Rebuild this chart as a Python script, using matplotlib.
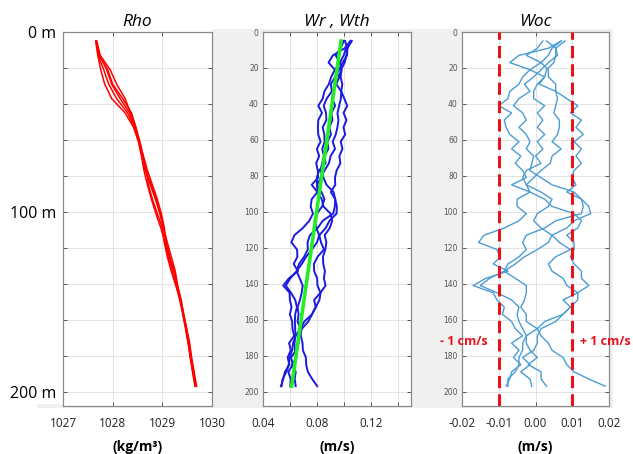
import matplotlib
matplotlib.use("Agg")
import matplotlib.pyplot as plt
from matplotlib.patches import Rectangle
import numpy as np

# ---------------- data ----------------
rho_depth = [5, 13, 21, 29, 37, 45, 53, 61, 69, 77, 85, 93, 101, 109, 117, 125,
             133, 141, 149, 157, 165, 173, 181, 189, 197]
rho_1 = [1027.66, 1027.70, 1027.76, 1027.84, 1027.98, 1028.25, 1028.42, 1028.52, 1028.58,
         1028.63, 1028.70, 1028.78, 1028.87, 1028.97, 1029.05, 1029.12, 1029.20, 1029.28,
         1029.35, 1029.41, 1029.47, 1029.52, 1029.56, 1029.61, 1029.66]
rho_2 = [1027.67, 1027.73, 1027.90, 1028.00, 1028.20, 1028.38, 1028.47, 1028.54, 1028.62,
         1028.70, 1028.80, 1028.90, 1028.98, 1029.04, 1029.08, 1029.15, 1029.24, 1029.30,
         1029.37, 1029.43, 1029.49, 1029.54, 1029.58, 1029.63, 1029.68]
rho_3 = [1027.68, 1027.75, 1027.95, 1028.08, 1028.25, 1028.36, 1028.46, 1028.55, 1028.61,
         1028.67, 1028.76, 1028.86, 1028.95, 1029.02, 1029.10, 1029.18, 1029.26, 1029.31,
         1029.37, 1029.42, 1029.48, 1029.53, 1029.57, 1029.62, 1029.67]
rho_4 = [1027.66, 1027.71, 1027.82, 1027.92, 1028.08, 1028.30, 1028.44, 1028.52, 1028.60,
         1028.68, 1028.72, 1028.80, 1028.90, 1029.00, 1029.04, 1029.10, 1029.18, 1029.27,
         1029.36, 1029.42, 1029.47, 1029.52, 1029.57, 1029.61, 1029.66]
rho_5 = [1027.67, 1027.74, 1027.88, 1027.98, 1028.15, 1028.34, 1028.45, 1028.53, 1028.59,
         1028.65, 1028.78, 1028.88, 1028.96, 1029.03, 1029.07, 1029.14, 1029.23, 1029.30,
         1029.38, 1029.43, 1029.49, 1029.55, 1029.59, 1029.64, 1029.69]

w_depth = [5, 9, 13, 17, 21, 25, 29, 33, 37, 41, 45, 49, 53, 57, 61, 65, 69, 73, 77, 81,
           85, 89, 93, 97, 101, 105, 109, 113, 117, 121, 125, 129, 133, 137, 141, 145,
           149, 153, 157, 161, 165, 169, 173, 177, 181, 185, 189, 193, 197]
# Woc profiles in cm/s
woc_a = [0.7, 0.35, -0.45, -0.7, -0.15, -0.35, -0.45, -0.7, -0.75, -1.0, -0.65, -0.85,
         -0.8, -0.7, -0.45, -0.65, -0.4, -0.55, -0.35, -0.25, -0.65, -0.15, -0.5, -0.5,
         -0.25, -0.45, -0.85, -1.4, -1.55, -1.05, -0.95, -1.15, -0.75, -1.35, -1.7, -1.15,
         -1.05, -0.85, -0.9, -0.65, -0.55, -0.35, -0.65, -0.45, -0.6, -0.4, -0.65, -0.7, -0.8]
woc_b = [0.8, 0.55, 0.6, 0.35, 0.15, -0.05, -0.3, -0.15, -0.45, -0.6, -0.35, -0.25,
         -0.45, -0.25, -0.15, -0.25, -0.05, -0.1, -0.15, 0.15, 0.45, 1.05, 1.25, 1.45,
         1.5, 1.05, 0.85, 0.45, 0.35, 0.05, -0.3, -0.55, -0.85, -1.25, -1.5, -1.05,
         -0.65, -0.45, -0.5, -0.45, -0.35, -0.25, -0.25, -0.15, 0.05, -0.2, 0.15, 0.15, 0.3]
woc_c = [0.3, 0.55, 0.55, 0.5, 0.3, 0.25, 0.1, 0.55, 0.85, 1.15, 0.95, 1.25, 1.1, 1.3,
         1.05, 1.25, 1.1, 1.25, 1.05, 1.0, 1.1, 0.85, 1.25, 1.3, 1.25, 0.55, 0.25, -0.25,
         -0.35, -0.25, -0.45, -0.75, -0.85, -0.55, -0.25, -0.25, -0.3, -0.4, -0.25, -0.25,
         0.05, 0.15, 0.35, 0.45, 0.75, 0.85, 1.05, 1.45, 1.9]
woc_d = [0.7, 0.45, 0.35, 0.15, 0.35, 0.35, 0.55, 0.55, 0.6, 0.55, 0.5, 0.65, 0.65, 0.6,
         0.45, 0.7, 0.45, 0.4, 0.15, -0.05, -0.25, -0.15, 0.25, 0.45, 1.05, 1.25, 1.15,
         0.85, 1.05, 1.05, 0.95, 1.05, 1.25, 1.25, 1.45, 1.15, 1.15, 0.95, 0.75, 0.25,
         0.05, -0.25, -0.35, -0.35, -0.45, -0.45, -0.55, -0.75, -0.75]
woc_e = [0.2, 0.05, -0.25, 0.15, -0.15, 0.25, 0.05, -0.05, -0.05, 0.25, 0.05, 0.2, 0.05,
         0.25, 0.05, 0.2, 0.0, 0.15, -0.25, -0.35, -0.25, 0.15, 0.45, 0.35, 0.05, -0.05,
         0.15, 0.45, 0.65, 0.95, 0.55, 0.35, 0.45, 0.75, 0.85, 1.15, 0.75, 0.95, 0.75,
         0.55, 0.15, 0.05, 0.05, -0.05, -0.35, -0.15, -0.4, -0.15, -0.1]

# theoretical speed Wth: straight line between its end points
wth_depth = [5, 197]
wth_value = [0.098, 0.0613]

titles = ["Rho", "Wr , Wth", "Woc"]
xlabels = ["(kg/m³)", "(m/s)", "(m/s)"]
rho_xticks = [1027, 1028, 1029, 1030]
wr_xticks = [0.04, 0.06, 0.08, 0.10, 0.12, 0.14]
wr_xticklabels = ["0.04", "", "0.08", "", "0.12", ""]
woc_xticks = [-0.02, -0.01, 0.00, 0.01, 0.02]
woc_xticklabels = ["-0.02", "-0.01", "0.00", "0.01", "0.02"]
depth_ticks = [0, 20, 40, 60, 80, 100, 120, 140, 160, 180, 200]
rho_depth_labels = ["0 m", "", "", "", "", "100 m", "", "", "", "", "200 m"]
limit_lines = [-0.01, 0.01]

# ---------------- figure ----------------
W, H = 633, 454
fig = plt.figure(figsize=(W / 100, H / 100), dpi=100)
fig.patch.set_facecolor("white")

def frac(x0, y0, x1, y1):
    return [x0 / W, 1 - y1 / H, (x1 - x0) / W, (y1 - y0) / H]

# grey MATLAB-like background behind panels (drawn in a background axes)
bg = fig.add_axes([0, 0, 1, 1], zorder=-10)
bg.set_xlim(0, W)
bg.set_ylim(H, 0)
bg.axis("off")
gray = "#f0f0f0"
bg.add_patch(Rectangle((212, 29), 613 - 212, 408 - 29, facecolor=gray, edgecolor="none"))
bg.add_patch(Rectangle((37, 404), 212 - 37, 4, facecolor=gray, edgecolor="none"))

ax1 = fig.add_axes(frac(63, 32, 212, 406))
ax2 = fig.add_axes(frac(263, 32, 411, 406))
ax3 = fig.add_axes(frac(462, 32, 609, 406))

font_main = "Open Sans"
spine_col = "#8a8a8a"

for ax in (ax1, ax2, ax3):
    ax.set_facecolor("white")
    for s in ax.spines.values():
        s.set_color(spine_col)
        s.set_linewidth(0.9)
    ax.set_ylim(208, 0)
    ax.set_yticks(depth_ticks)
    ax.grid(True, color="#dedede", linewidth=0.6)
    ax.set_axisbelow(True)
    ax.tick_params(direction="in", length=3, width=0.6, color="#404040",
                   top=True, right=True)
    ax.tick_params(axis="x", pad=8)

# Rho panel
for r in (rho_1, rho_2, rho_3, rho_4, rho_5):
    ax1.plot(r, rho_depth, color="#ff0000", linewidth=1.1)
ax1.set_xlim(1027, 1030)
ax1.set_xticks(rho_xticks)
ax1.set_xticklabels([str(v) for v in rho_xticks], fontsize=8.5, family=font_main, color="#222222")
ax1.set_yticklabels(rho_depth_labels, fontsize=11.5, family=font_main, color="black")
ax1.tick_params(axis="y", pad=5)

# Wr, Wth panel
wth_interp = np.interp(w_depth, wth_depth, wth_value)
for wc in (woc_a, woc_b, woc_c, woc_d, woc_e):
    wr = wth_interp + np.array(wc) / 100.0
    ax2.plot(wr, w_depth, color="#1a1ae0", linewidth=1.4)
ax2.plot(wth_value, wth_depth, color="#22ee22", linewidth=2.6)
ax2.set_xlim(0.04, 0.15)
ax2.set_xticks(wr_xticks)
ax2.set_xticklabels(wr_xticklabels, fontsize=8.5, family=font_main, color="#222222")

# Woc panel
for wc in (woc_a, woc_b, woc_c, woc_d, woc_e):
    ax3.plot(np.array(wc) / 100.0, w_depth, color="#4b9cd3", linewidth=1.0)
for xv in limit_lines:
    ax3.axvline(xv, color="#e8121b", linewidth=2.2, linestyle=(0, (4, 2)), zorder=5)
ax3.set_xlim(-0.02, 0.02)
ax3.set_xticks(woc_xticks)
ax3.set_xticklabels(woc_xticklabels, fontsize=8.5, family=font_main, color="#222222")
ax3.text(-0.0259, 172, "- 1 cm/s", color="#e8121b", fontsize=9, fontweight="bold",
         family=font_main, ha="left", va="center", clip_on=False, zorder=10)
ax3.text(0.0120, 172, "+ 1 cm/s", color="#e8121b", fontsize=9, fontweight="bold",
         family=font_main, ha="left", va="center", clip_on=False, zorder=10)

for ax in (ax2, ax3):
    for lab in ax.get_yticklabels():
        lab.set_fontsize(5.5)
        lab.set_color("#555555")
        lab.set_family("DejaVu Sans")
    ax.tick_params(axis="y", pad=3)

# titles and unit labels
for ax, t, xl in zip((ax1, ax2, ax3), titles, xlabels):
    ax.set_title(t, fontsize=12.5, style="italic", family=font_main, pad=4)
    ax.text(0.5, -0.11, xl, transform=ax.transAxes, ha="center", va="center",
            fontsize=10, fontweight="bold", family=font_main)

fig.savefig("out.png", dpi=100, facecolor=fig.get_facecolor())
